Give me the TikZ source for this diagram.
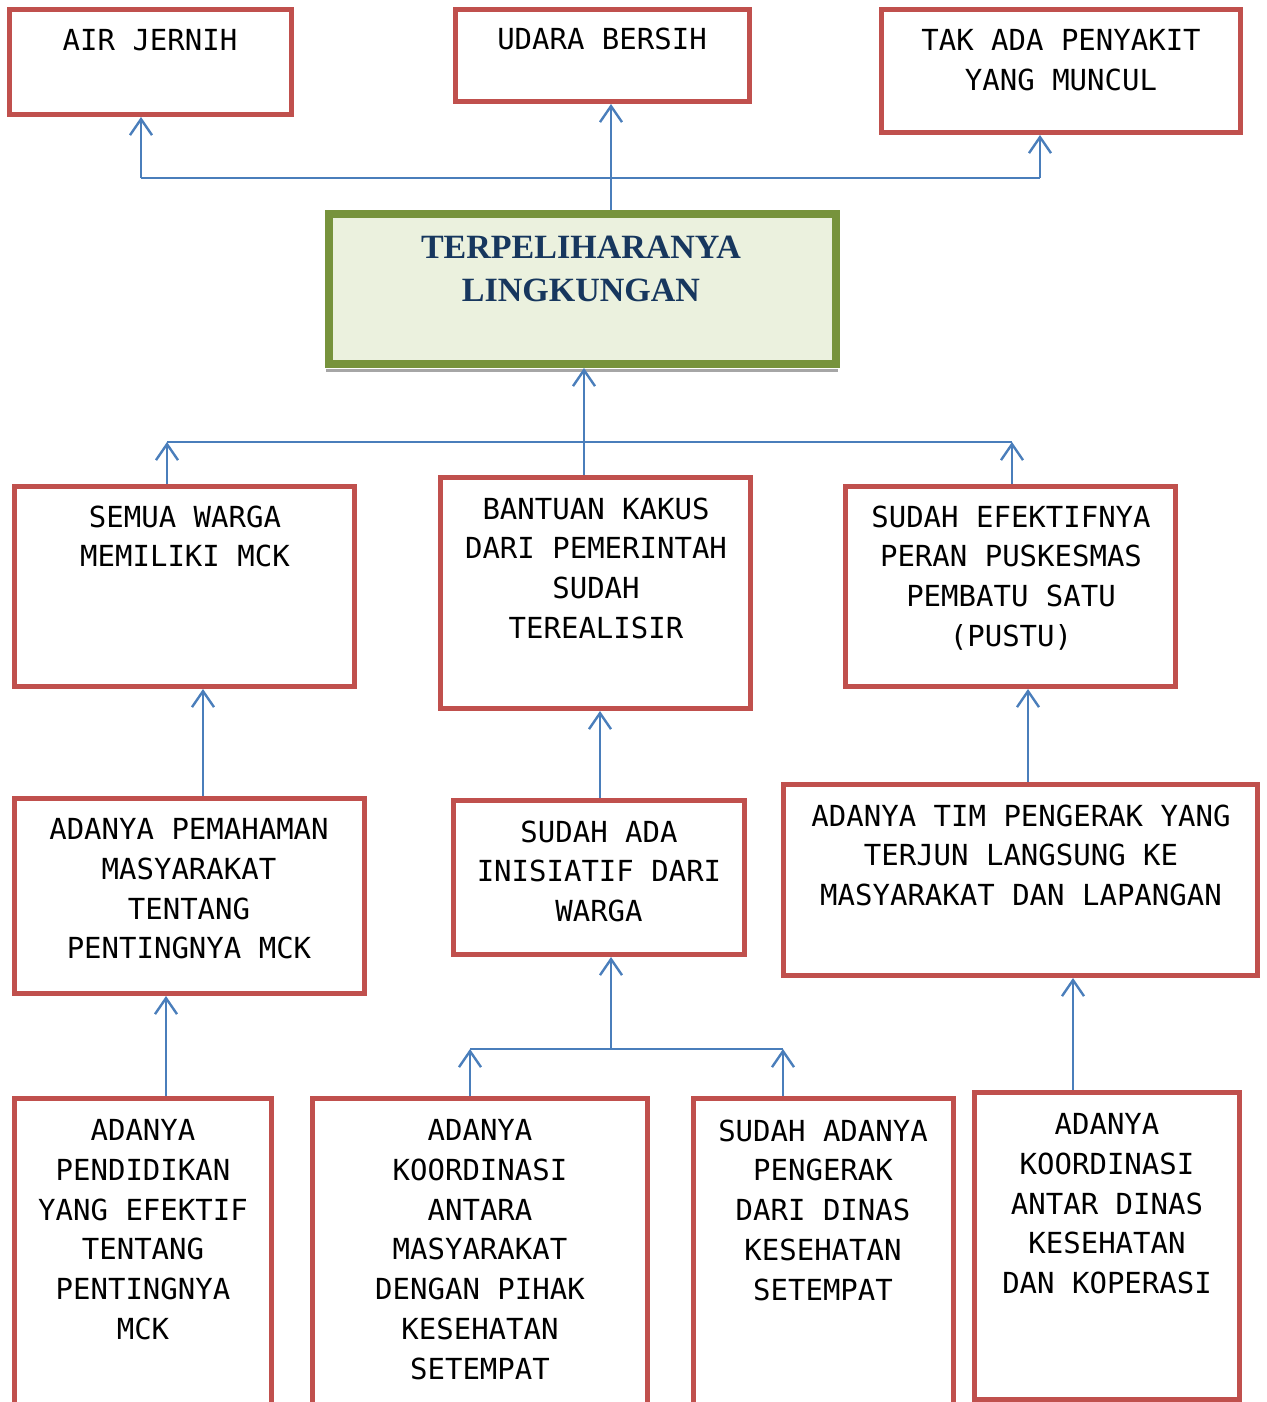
\documentclass[tikz,border=0pt]{standalone}
\usepackage{fontspec}
\setmainfont{DejaVu Sans Mono}
\newfontfamily\titlefont{Liberation Serif}
\usetikzlibrary{arrows.meta}
\definecolor{boxred}{HTML}{C0504D}
\definecolor{arrblue}{HTML}{4A7EBB}
\definecolor{gborder}{HTML}{77933C}
\definecolor{gfill}{HTML}{EBF1DE}
\definecolor{tblue}{HTML}{17375E}
\definecolor{shadowgray}{HTML}{A6A6A6}
\begin{document}
\begin{tikzpicture}[x=1pt,y=-1pt,
  redbox/.style={draw=boxred, line width=5pt, fill=white, inner sep=0pt, anchor=north west},
  greenbox/.style={draw=gborder, line width=8pt, fill=gfill, inner sep=0pt, anchor=north west},
  boxtext/.style={anchor=north, inner sep=0pt, align=center, font=\fontsize{29}{39.7}\selectfont},
  titletext/.style={anchor=north, inner sep=0pt, align=center, text=tblue, font=\titlefont\bfseries\fontsize{34}{43}\selectfont},
  conn/.style={draw=arrblue, line width=2.4pt},
  arr/.style={conn, -{Straight Barb[length=16pt,width=22pt]}},
]
\useasboundingbox (0,0) rectangle (1266,1402);
\clip (0,0) rectangle (1266,1402);

% ---- top row
\node[redbox, minimum width=282pt, minimum height=105pt] (air) at (7,7) {};
\node[boxtext] (airt) at (150,29.5) {AIR JERNIH};
\node[redbox, minimum width=294pt, minimum height=92pt] (udara) at (453,7) {};
\node[boxtext] (udarat) at (602,27.5) {UDARA BERSIH};
\node[redbox, minimum width=359pt, minimum height=123pt] (tak) at (879,7) {};
\node[boxtext] (takt) at (1061,29.5) {TAK ADA PENYAKIT\\YANG MUNCUL};

% ---- central
\draw[shadowgray, line width=3pt] (326,370) -- (838,370);
\node[greenbox, minimum width=507pt, minimum height=150pt] (central) at (325,210) {};
\node[titletext] (centralt) at (581,235.5) {TERPELIHARANYA\\LINGKUNGAN};

% ---- second row
\node[redbox, minimum width=340pt, minimum height=200pt] (semua) at (12,484) {};
\node[boxtext] (semuat) at (185,505.5) {SEMUA WARGA\\MEMILIKI MCK};
\node[redbox, minimum width=310pt, minimum height=231pt] (bantuan) at (438,475) {};
\node[boxtext] (bantuant) at (596,497.5) {BANTUAN KAKUS\\DARI PEMERINTAH\\SUDAH\\TEREALISIR};
\node[redbox, minimum width=330pt, minimum height=200pt] (efektif) at (843,484) {};
\node[boxtext] (efektift) at (1011,505.5) {SUDAH EFEKTIFNYA\\PERAN PUSKESMAS\\PEMBATU SATU\\(PUSTU)};

% ---- third row
\node[redbox, minimum width=350pt, minimum height=195pt] (paham) at (12,796) {};
\node[boxtext] (pahamt) at (189,818.5) {ADANYA PEMAHAMAN\\MASYARAKAT\\TENTANG\\PENTINGNYA MCK};
\node[redbox, minimum width=291pt, minimum height=154pt] (inisiatif) at (451,798) {};
\node[boxtext] (inisiatift) at (599,820.5) {SUDAH ADA\\INISIATIF DARI\\WARGA};
\node[redbox, minimum width=474pt, minimum height=191pt] (tim) at (781,782) {};
\node[boxtext] (timt) at (1021,804.5) {ADANYA TIM PENGERAK YANG\\TERJUN LANGSUNG KE\\MASYARAKAT DAN LAPANGAN};

% ---- bottom row
\node[redbox, minimum width=257pt, minimum height=329pt] (didik) at (12,1096) {};
\node[boxtext] (didikt) at (143,1119.5) {ADANYA\\PENDIDIKAN\\YANG EFEKTIF\\TENTANG\\PENTINGNYA\\MCK};
\node[redbox, minimum width=335pt, minimum height=329pt] (koorA) at (310,1096) {};
\node[boxtext] (koorAt) at (480,1119.5) {ADANYA\\KOORDINASI\\ANTARA\\MASYARAKAT\\DENGAN PIHAK\\KESEHATAN\\SETEMPAT};
\node[redbox, minimum width=260pt, minimum height=329pt] (gerak) at (691,1096) {};
\node[boxtext] (gerakt) at (823,1119.5) {SUDAH ADANYA\\PENGERAK\\DARI DINAS\\KESEHATAN\\SETEMPAT};
\node[redbox, minimum width=265pt, minimum height=307pt] (koorB) at (972,1090) {};
\node[boxtext] (koorBt) at (1107,1113.5) {ADANYA\\KOORDINASI\\ANTAR DINAS\\KESEHATAN\\DAN KOPERASI};

% ---- connectors: top level
\coordinate (tl) at (141,178);
\coordinate (tm) at (611,178);
\coordinate (tr) at (1040,178);
\draw[conn] (tl) -- (tr);
\draw[arr] (tl) -- (tl |- air.south);
\draw[arr] (tr) -- (tr |- tak.south);
\draw[arr] (tm |- central.north) -- (tm |- udara.south);

% ---- second level
\coordinate (ml) at (167,442);
\coordinate (mm) at (584,442);
\coordinate (mr) at (1012,442);
\draw[conn] (ml) -- (mr);
\draw[arr] (ml |- semua.north) -- (ml);
\draw[arr] (mr |- efektif.north) -- (mr);
\draw[arr] (mm |- bantuan.north) -- (mm |- central.south);

% ---- third level
\coordinate (c1) at (203,740);
\coordinate (c2) at (600,740);
\coordinate (c3) at (1028,740);
\draw[arr] (c1 |- paham.north) -- (c1 |- semua.south);
\draw[arr] (c2 |- inisiatif.north) -- (c2 |- bantuan.south);
\draw[arr] (c3 |- tim.north) -- (c3 |- efektif.south);

% ---- bottom level
\coordinate (d1) at (166,1049);
\coordinate (bl) at (470,1049);
\coordinate (bm) at (611,1049);
\coordinate (br) at (783,1049);
\coordinate (d4) at (1073,1049);
\draw[arr] (d1 |- didik.north) -- (d1 |- paham.south);
\draw[conn] (bl) -- (br);
\draw[arr] (bl |- koorA.north) -- (bl);
\draw[arr] (br |- gerak.north) -- (br);
\draw[arr] (bm) -- (bm |- inisiatif.south);
\draw[arr] (d4 |- koorB.north) -- (d4 |- tim.south);
\end{tikzpicture}
\end{document}
